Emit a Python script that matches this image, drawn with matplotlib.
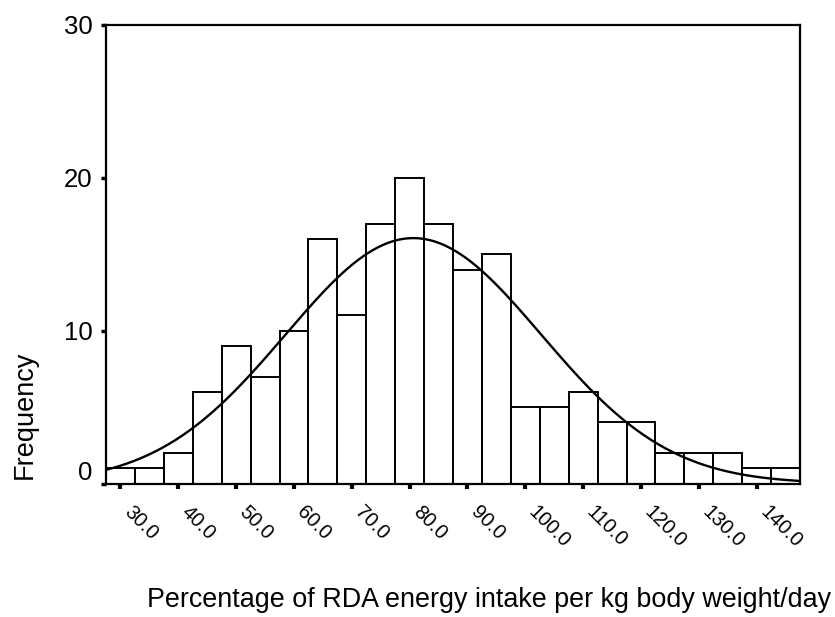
import numpy as np
import matplotlib
matplotlib.use("Agg")
import matplotlib.pyplot as plt
import matplotlib.transforms as mtransforms

# Data
bin_edges = [27.5 + 5 * i for i in range(25)]
counts = [1, 1, 2, 6, 9, 7, 10, 16, 11, 17, 20, 17, 14, 15,
          5, 5, 6, 4, 4, 2, 2, 2, 1, 1]
x_ticks = [30, 40, 50, 60, 70, 80, 90, 100, 110, 120, 130, 140]
x_ticklabels = ["30.0", "40.0", "50.0", "60.0", "70.0", "80.0", "90.0",
                "100.0", "110.0", "120.0", "130.0", "140.0"]
y_ticks = [0, 10, 20, 30]
x_label = "Percentage of RDA energy intake per kg body weight/day"
y_label = "Frequency"

plt.rcParams['font.family'] = ['Liberation Sans', 'DejaVu Sans']

fig = plt.figure(figsize=(8.35, 6.17), dpi=100)
ax = fig.add_axes([106 / 835, 1 - 483.5 / 617, (800 - 106) / 835, (483.5 - 25) / 617])

edges = np.array(bin_edges)
cnt = np.array(counts)
ax.bar(edges[:-1], cnt, width=np.diff(edges), align='edge',
       facecolor='white', edgecolor='black', linewidth=1.4)

# normal curve from the histogram data
mids = (edges[:-1] + edges[1:]) / 2
n = cnt.sum()
mean = (cnt * mids).sum() / n
sd = np.sqrt((cnt * (mids - mean) ** 2).sum() / (n - 1))
bw = edges[1] - edges[0]
xs = np.linspace(edges[0], edges[-1], 400)
ys = n * bw / (sd * np.sqrt(2 * np.pi)) * np.exp(-0.5 * ((xs - mean) / sd) ** 2)
ax.plot(xs, ys, color='black', linewidth=1.7)

ax.set_xlim(edges[0], edges[-1])
ax.set_ylim(0, 30)

for s in ax.spines.values():
    s.set_linewidth(1.6)

ax.set_yticks(y_ticks)
ax.set_yticklabels([str(v) for v in y_ticks])
ax.tick_params(axis='y', length=3.5, width=2.5, pad=6, labelsize=18.5)

ax.set_xticks(x_ticks)
ax.set_xticklabels(x_ticklabels)
ax.tick_params(axis='x', length=3.5, width=3, pad=10, labelsize=14.5)
offset = mtransforms.ScaledTranslation(0.13, 0, fig.dpi_scale_trans)
for lab in ax.get_xticklabels():
    lab.set_rotation(-45)
    lab.set_ha('left')
    lab.set_va('top')
    lab.set_rotation_mode('anchor')
    lab.set_transform(lab.get_transform() + offset)

# the "0" label sits a bit above its tick in the reference
up = mtransforms.ScaledTranslation(0, 0.13, fig.dpi_scale_trans)
ylabs = ax.get_yticklabels()
ylabs[0].set_transform(ylabs[0].get_transform() + up)

fig.text(489 / 835, 1 - 600 / 617, x_label, ha='center', va='center', fontsize=19.4)
fig.text(25 / 835, 1 - 415 / 617, y_label, ha='center', va='center',
         rotation=90, fontsize=19.5)

fig.savefig("out.png", dpi=100)
